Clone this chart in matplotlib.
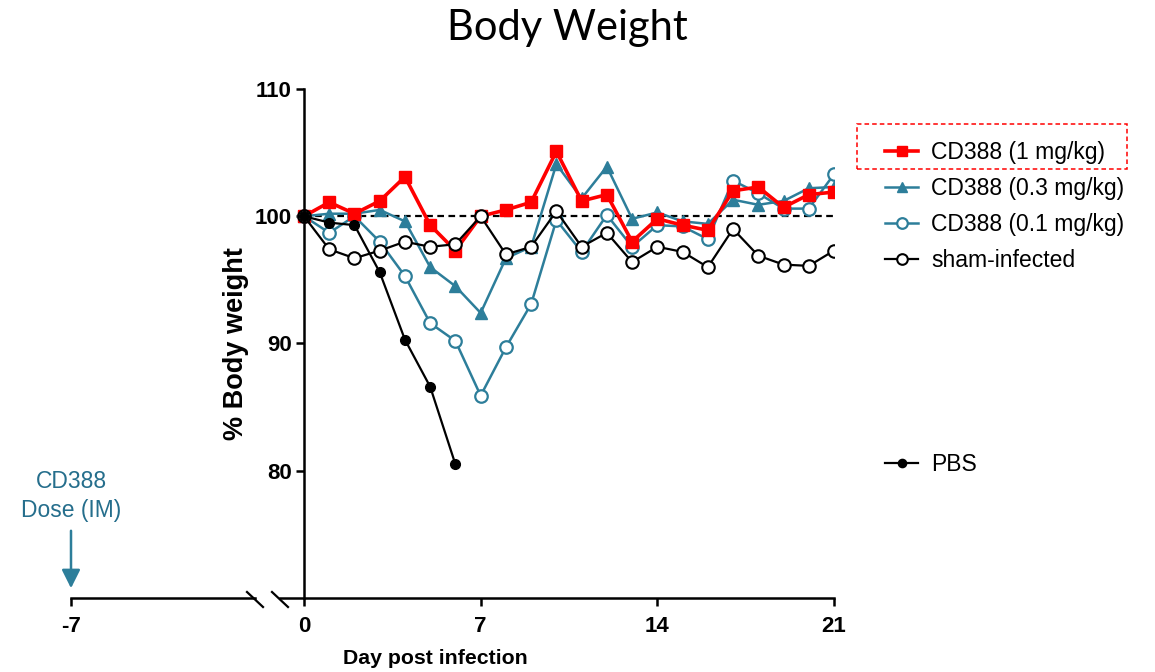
import matplotlib.pyplot as plt
from matplotlib.lines import Line2D
from matplotlib.patches import Rectangle

# Data (% body weight per day post infection)
days = list(range(22))
cd388_1 = [100, 101.1, 100.2, 101.2, 103.1, 99.3, 97.3, 100.0, 100.5, 101.1, 105.1,
           101.2, 101.7, 98.0, 99.8, 99.3, 98.9, 102.0, 102.3, 100.7, 101.7, 101.9]
cd388_03 = [100, 100.2, 100.2, 100.5, 99.6, 96.0, 94.5, 92.4, 96.7, 97.6, 104.1,
            101.4, 103.9, 99.8, 100.3, 99.6, 99.4, 101.3, 100.9, 101.2, 102.2, 102.3]
cd388_01 = [100, 98.7, 100.0, 98.0, 95.3, 91.6, 90.2, 85.9, 89.7, 93.1, 99.7,
            97.2, 100.1, 97.6, 99.3, 99.2, 98.2, 102.8, 101.8, 100.6, 100.6, 103.3]
sham = [100, 97.4, 96.7, 97.3, 98.0, 97.6, 97.8, 100.0, 97.0, 97.6, 100.4,
        97.6, 98.7, 96.4, 97.6, 97.2, 96.0, 99.0, 96.9, 96.2, 96.1, 97.3]
pbs_days = [0, 1, 2, 3, 4, 5, 6]
pbs = [100, 99.5, 99.3, 95.6, 90.3, 86.6, 80.5]

xticks = [0, 7, 14, 21]
yticks = [80, 90, 100, 110]
labels = ['CD388 (1 mg/kg)', 'CD388 (0.3 mg/kg)', 'CD388 (0.1 mg/kg)', 'sham-infected']

W, H = 1155, 672
RED = '#FF0000'
TEAL = '#2D7E9A'
TEAL_TXT = '#256E8C'

plt.rcParams['font.family'] = ['Liberation Sans', 'DejaVu Sans']
plt.rcParams['axes.unicode_minus'] = False


def px(x, y):
    # pixel position (from top-left) -> figure fraction
    return x / W, 1 - y / H


fig = plt.figure(figsize=(W / 100, H / 100), dpi=100)

# main axes: spine starts at the break (x=280px), day 0 at 304px, day 21 at 834px
ppd = (834 - 304) / 21.0
x0 = -(304 - 280) / ppd
ax = fig.add_axes([280 / W, 74 / H, (834 - 280) / W, (598 - 89) / H])
ax.set_xlim(x0, 21)
ax.set_ylim(70, 110)

ax.axhline(100, xmin=(0 - x0) / (21 - x0), xmax=1, color='black', lw=1.6,
           linestyle=(0, (3, 2)), zorder=1)

ax.plot(days, cd388_01, color=TEAL, lw=1.8, marker='o', ms=9, mfc='white',
        mec=TEAL, mew=1.6, zorder=2)
ax.plot(days, cd388_03, color=TEAL, lw=1.8, marker='^', ms=8.5, mfc=TEAL,
        mec=TEAL, zorder=3)
ax.plot(days, cd388_1, color=RED, lw=2.6, marker='s', ms=9, mfc=RED,
        mec=RED, zorder=4)
ax.plot(days, sham, color='black', lw=1.6, marker='o', ms=9, mfc='white',
        mec='black', mew=1.5, zorder=5)
ax.plot(pbs_days, pbs, color='black', lw=1.6, marker='o', ms=7, mfc='black',
        mec='black', zorder=6)

for s in ['top', 'right']:
    ax.spines[s].set_visible(False)
ax.spines['left'].set_position(('data', 0))
ax.spines['left'].set_linewidth(1.8)
ax.spines['bottom'].set_linewidth(1.8)
ax.set_xticks(xticks)
ax.set_yticks(yticks)
ax.tick_params(axis='both', direction='out', length=6, width=1.8, labelsize=16)
ax.tick_params(axis='y', pad=3)
ax.tick_params(axis='x', pad=7)
for t in ax.get_xticklabels() + ax.get_yticklabels():
    t.set_fontweight('bold')
ax.set_ylabel('% Body weight', fontsize=19.5, fontweight='bold')
ax.yaxis.set_label_coords((249 - 280) / (834 - 280), 0.5)

# short left segment of the broken x axis, for day -7
ax2 = fig.add_axes([71 / W, 74 / H, (255 - 71) / W, 0.001])
ax2.set_xlim(-7, -7 + (255 - 71) / ppd)
ax2.set_yticks([])
for s in ['top', 'right', 'left']:
    ax2.spines[s].set_visible(False)
ax2.spines['bottom'].set_linewidth(1.8)
ax2.patch.set_visible(False)
ax2.set_xticks([-7])
ax2.tick_params(axis='x', direction='out', length=6, width=1.8,
                labelsize=16, pad=7)
for t in ax2.get_xticklabels():
    t.set_fontweight('bold')

# break marks
for bx in (255, 280):
    (xa, ya), (xb, yb) = px(bx - 8, 592), px(bx + 8, 607)
    fig.add_artist(Line2D([xa, xb], [ya, yb], transform=fig.transFigure,
                          color='black', lw=1.6))

fig.text(*px(435, 658), 'Day post infection', fontsize=15.3, fontweight='bold',
         ha='center', va='center')
fig.text(*px(567, 28), 'Body Weight', fontsize=30, ha='center', va='center',
         family=['Lato', 'DejaVu Sans'])

# dose annotation
fig.text(*px(71, 482), 'CD388', fontsize=16.5, color=TEAL_TXT, ha='center', va='center')
fig.text(*px(71, 510), 'Dose (IM)', fontsize=16.5, color=TEAL_TXT, ha='center', va='center')
ax.annotate('', xy=px(71, 591), xytext=px(71, 528), xycoords='figure fraction',
            textcoords='figure fraction',
            arrowprops=dict(arrowstyle='-|>', color=TEAL, lw=1.8, mutation_scale=28))

# legends
handles = ax.get_lines()[1:5]
order = [2, 1, 0, 3]
fig.legend([handles[i] for i in order], labels, loc='upper left',
           bbox_to_anchor=px(874, 130), frameon=False, fontsize=16.5,
           handlelength=1.4, handletextpad=0.6, labelspacing=0.56,
           borderpad=0, numpoints=1, markerscale=0.85)
fig.legend([ax.get_lines()[5]], ['PBS'], loc='upper left',
           bbox_to_anchor=px(874, 442), frameon=False, fontsize=16.5,
           handlelength=1.4, handletextpad=0.6, borderpad=0, numpoints=1,
           markerscale=0.85)

# dashed box around the 1 mg/kg entry
(rx, ry) = px(857, 169)
fig.add_artist(Rectangle((rx, ry), (1127 - 857) / W, (169 - 124) / H,
                         transform=fig.transFigure, fill=False, edgecolor=RED,
                         lw=1.1, linestyle=(0, (3, 2))))

fig.savefig('out.png', dpi=100)
